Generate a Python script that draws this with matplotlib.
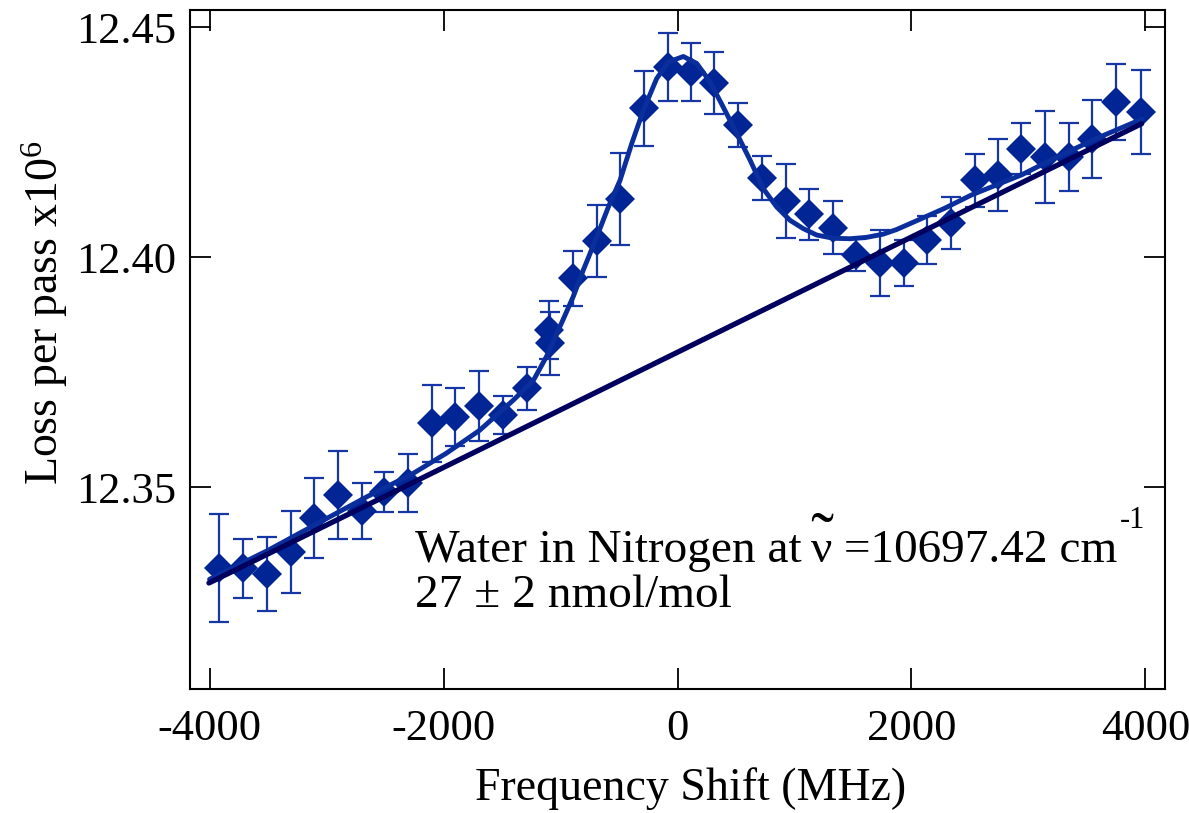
import matplotlib
matplotlib.use("Agg")
import matplotlib.pyplot as plt
import numpy as np

plt.rcParams['font.family'] = ['Liberation Serif', 'DejaVu Serif']
plt.rcParams['mathtext.fontset'] = 'custom'
plt.rcParams['mathtext.rm'] = 'Liberation Serif'
plt.rcParams['mathtext.it'] = 'Liberation Serif:italic'
plt.rcParams['mathtext.bf'] = 'Liberation Serif:bold'
plt.rcParams['axes.unicode_minus'] = False

# measured data (frequency shift in MHz, loss per pass x1e6, error)
freq = [-3915, -3710, -3510, -3305, -3105, -2905, -2700, -2505, -2300, -2100,
        -1900, -1695, -1495, -1290, -1095, -1090, -890, -690, -490, -290,
        -80, 115, 310, 520, 720, 925, 1125, 1325, 1525, 1730,
        1935, 2135, 2340, 2540, 2740, 2940, 3140, 3345, 3545, 3750, 3960]
loss = [12.3324, 12.3324, 12.3312, 12.3360, 12.3433, 12.3483, 12.3449, 12.3490, 12.3509, 12.3639,
        12.3652, 12.3677, 12.3657, 12.3715, 12.3842, 12.3813, 12.3954, 12.4035, 12.4126, 12.4323,
        12.4413, 12.4402, 12.4378, 12.4287, 12.4172, 12.4122, 12.4093, 12.4064, 12.4005, 12.3987,
        12.3988, 12.4037, 12.4074, 12.4167, 12.4178, 12.4236, 12.4218, 12.4218, 12.4256, 12.4337, 12.4315]
loss_err = [0.0117, 0.0064, 0.0081, 0.0089, 0.0087, 0.0096, 0.0061, 0.0043, 0.0063, 0.0084,
            0.0063, 0.0076, 0.0041, 0.0047, 0.0063, 0.0068, 0.0060, 0.0078, 0.0100, 0.0082,
            0.0073, 0.0063, 0.0067, 0.0047, 0.0048, 0.0080, 0.0055, 0.0057, 0.0035, 0.0072,
            0.0050, 0.0052, 0.0057, 0.0057, 0.0078, 0.0055, 0.0100, 0.0074, 0.0085, 0.0083, 0.0091]

# fitted profile
fit_freq = [-4000, -3500, -3000, -2650, -2260, -1975, -1690, -1400, -1230, -1120,
            -975, -890, -805, -690, -591, -491, -391, -292, -178, -79,
            50, 164, 278, 391, 506, 620, 733, 848, 962, 1075,
            1190, 1332, 1474, 1617, 1759, 1873, 2052, 2282, 2512, 2943,
            3231, 3600, 3970]
fit_loss = [12.3300, 12.3363, 12.3432, 12.3480, 12.3530, 12.3574, 12.3624, 12.3690, 12.3733, 12.3784,
            12.3866, 12.3915, 12.3972, 12.4044, 12.4109, 12.4167, 12.4247, 12.4319, 12.4388, 12.4424,
            12.4436, 12.4421, 12.4381, 12.4326, 12.4269, 12.4211, 12.4149, 12.4109, 12.4080, 12.4062,
            12.4048, 12.4041, 12.4040, 12.4043, 12.4050, 12.4060, 12.4080, 12.4106, 12.4135, 12.4179,
            12.4216, 12.4260, 12.4300]

# baseline (end points)
base_freq = [-4005, 3967]
base_loss = [12.3292, 12.4290]

x_ticks = [-4000, -2000, 0, 2000, 4000]
y_ticks = [12.35, 12.40, 12.45]

W, H = 1189, 813
fig = plt.figure(figsize=(W / 100, H / 100), dpi=100)
ax = fig.add_axes([190 / W, 1 - 689.3 / H, 975 / W, 679.3 / H])

marker_color = '#022595'
fit_color = '#0a2e9c'
base_color = '#00005e'
err_color = '#1636a6'

ax.errorbar(freq, loss, yerr=loss_err, fmt='none', ecolor=err_color,
            elinewidth=1.6, capsize=7, capthick=1.6, zorder=2)
ax.plot(freq, loss, linestyle='none', marker='D', markersize=15,
        color=marker_color, markeredgewidth=0, zorder=3)
ax.plot(fit_freq, fit_loss, color=fit_color, linewidth=3.5, zorder=4,
        solid_capstyle='round')
ax.plot(base_freq, base_loss, color=base_color, linewidth=3.8, zorder=5,
        solid_capstyle='round')

ax.set_xlim(-4167, 4167)
ax.set_ylim(12.3061, 12.4537)
ax.set_xticks(x_ticks)
ax.set_xticklabels([str(v) for v in x_ticks])
ax.set_yticks(y_ticks)
ax.set_yticklabels([f"{v:.2f}" for v in y_ticks])

ax.tick_params(axis='both', which='major', direction='in', length=15, width=1.3,
               top=True, right=True, labelsize=32, color='black')
ax.tick_params(axis='x', pad=14)
ax.tick_params(axis='y', pad=10)
for sp in ax.spines.values():
    sp.set_linewidth(1.5)
    sp.set_color('black')

ax.set_xlabel("Frequency Shift (MHz)", fontsize=33)
ax.xaxis.set_label_coords(0.513, -0.115)
ax.set_ylabel(r"Loss per pass x10$^{\mathregular{6}}$", fontsize=33)
ax.yaxis.set_label_coords(-0.123, 0.555)

# annotation, assembled piece by piece
renderer = fig.canvas.get_renderer()
fs = 34
base_y = 562.0
x0 = 415.0


def put(x_px, y_px, s, size, ha='left'):
    t = fig.text(x_px / W, 1 - y_px / H, s, fontsize=size, va='baseline', ha=ha)
    return t, t.get_window_extent(renderer=renderer)


_, bb = put(x0, base_y, "Water in Nitrogen at", fs)
nu_x = bb.x1 + 9
_, bbnu = put(nu_x, base_y, "\u03bd", fs)
nu_c = 0.5 * (bbnu.x0 + bbnu.x1)
put(nu_c, base_y - 2, "\u02dc", 50, ha='center')
_, bb2 = put(bbnu.x1, base_y, " =10697.42 cm", fs)
put(bb2.x1 + 3, base_y - 34, "-1", 22)

put(x0, 607.0, "27 \u00b1 2 nmol/mol", fs)

fig.savefig("out.png", dpi=100)
